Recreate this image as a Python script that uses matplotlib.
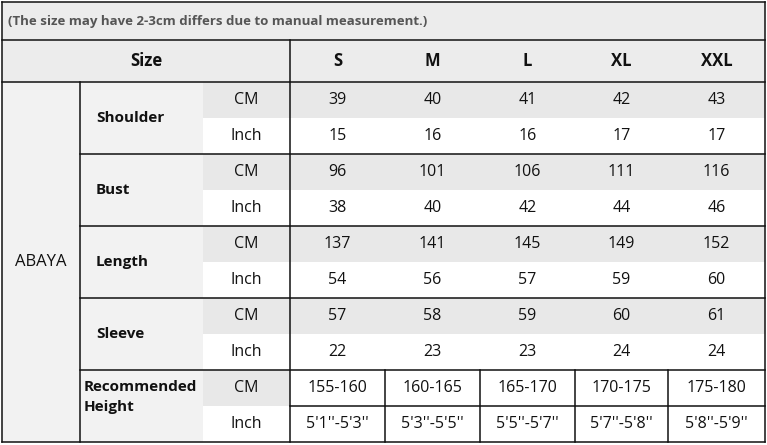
import matplotlib
matplotlib.use("Agg")
import matplotlib.pyplot as plt
from matplotlib.patches import Rectangle

NOTE = "(The size may have 2-3cm differs due to manual measurement.)"
SIZES = ["S", "M", "L", "XL", "XXL"]
MEASURES = ["Shoulder", "Bust", "Length", "Sleeve", "Recommended\nHeight"]
CM = [[39, 40, 41, 42, 43], [96, 101, 106, 111, 116], [137, 141, 145, 149, 152],
      [57, 58, 59, 60, 61], ["155-160", "160-165", "165-170", "170-175", "175-180"]]
INCH = [[15, 16, 16, 17, 17], [38, 40, 42, 44, 46], [54, 56, 57, 59, 60],
        [22, 23, 23, 24, 24], ["5'1''-5'3''", "5'3''-5'5''", "5'5''-5'7''", "5'7''-5'8''", "5'8''-5'9''"]]

plt.rcParams["font.family"] = ["Open Sans", "DejaVu Sans"]
fig = plt.figure(figsize=(7.67, 4.45), dpi=100)
ax = fig.add_axes([0, 0, 1, 1])
ax.set_xlim(0, 767); ax.set_ylim(445, 0); ax.axis("off")

LINE = "#111111"
GRAY = "#e8e8e8"
LIGHT = "#f2f2f2"
xs = [2, 80, 203, 290, 385, 480, 575, 668, 765]
top, y_size, y_body, rh = 2, 40, 82, 36
bottom = y_body + rh * 10

def rect(x0, y0, x1, y1, fc):
    ax.add_patch(Rectangle((x0, y0), x1 - x0, y1 - y0, fc=fc, ec="none"))

def txt(x, y, s, bold=False, size=11.5, color="#111111", ha="center"):
    ax.text(x, y, s, ha=ha, va="center", fontsize=size, color=color,
            fontweight="bold" if bold else "normal")

def line(x0, y0, x1, y1, lw=1.1):
    ax.plot([x0, x1], [y0, y1], color=LINE, lw=lw, solid_capstyle="projecting")

# backgrounds
rect(xs[0], top, xs[-1], y_body, "#ececec")
rect(xs[0], y_body, xs[2], bottom, LIGHT)
for i in range(5):
    yc = y_body + 2 * i * rh
    rect(xs[2], yc, xs[-1] if i < 4 else xs[3], yc + rh, GRAY)
    rect(xs[2], yc + rh, xs[-1], yc + 2 * rh, "white")
    if i == 4:
        rect(xs[3], yc, xs[-1], yc + rh, "white")

# text
txt(8, (top + y_size) / 2, NOTE, bold=True, size=9.5, color="#555555", ha="left")
txt((xs[0] + xs[3]) / 2, (y_size + y_body) / 2, "Size", bold=True, size=12)
for j, s in enumerate(SIZES):
    txt((xs[3 + j] + xs[4 + j]) / 2, (y_size + y_body) / 2, s, bold=True, size=12)
txt((xs[0] + xs[1]) / 2, (y_body + bottom) / 2, "ABAYA", size=12)
for i, m in enumerate(MEASURES):
    yc = y_body + 2 * i * rh
    if i < 4:
        txt(xs[1] + 16, yc + rh, m, bold=True, size=11, ha="left")
    else:
        ax.text(xs[1] + 4, yc + rh - 9, m, ha="left", va="center", fontsize=11,
                fontweight="bold", color="#111111", linespacing=1.6)
    txt((xs[2] + xs[3]) / 2, yc + rh / 2, "CM")
    txt((xs[2] + xs[3]) / 2, yc + 1.5 * rh, "Inch")
    for j in range(5):
        cx = (xs[3 + j] + xs[4 + j]) / 2
        txt(cx, yc + rh / 2, str(CM[i][j]))
        txt(cx, yc + 1.5 * rh, str(INCH[i][j]))

# grid lines
line(xs[0], top, xs[-1], top); line(xs[0], bottom, xs[-1], bottom)
line(xs[0], top, xs[0], bottom); line(xs[-1], top, xs[-1], bottom)
line(xs[0], y_size, xs[-1], y_size); line(xs[0], y_body, xs[-1], y_body)
line(xs[3], y_size, xs[3], bottom)
line(xs[1], y_body, xs[1], bottom)
for i in range(1, 5):
    line(xs[1], y_body + 2 * i * rh, xs[-1], y_body + 2 * i * rh)
hy = y_body + 8 * rh
line(xs[3], hy + rh, xs[-1], hy + rh)
for x in xs[4:-1]:
    line(x, hy, x, bottom)

fig.savefig("out.png", dpi=100)
